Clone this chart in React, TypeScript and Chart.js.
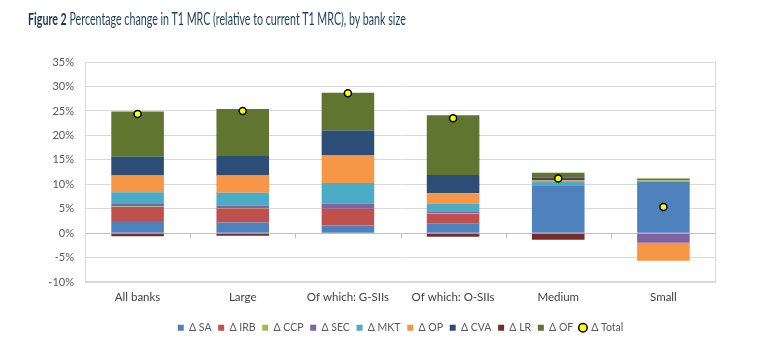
import React, { useEffect, useRef } from 'react';
import { Chart, registerables } from 'chart.js';
Chart.register(...registerables);

const categories = ['All banks', 'Large', 'Of which: G-SIIs', 'Of which: O-SIIs', 'Medium', 'Small'];
const dSA = [2.5, 2.2, 1.6, 2.05, 9.65, 10.6];
const dIRB = [2.9, 2.9, 3.4, 1.9, 0, 0];
const dCCP = [0.1, 0.1, 0, 0.1, 0, 0.25];
const dSEC = [0.5, 0.5, 1.1, 0.3, 0, -1.9];
const dMKT = [2.4, 2.6, 4.2, 1.7, 0.85, 0];
const dOP = [3.4, 3.5, 5.6, 2.15, 0.4, -3.7];
const dCVA = [3.85, 4.0, 5.1, 3.7, 0.45, 0];
const dLR = [-0.6, -0.5, 0, -0.7, -1.3, 0];
const dOF = [9.25, 9.6, 7.7, 12.2, 1.05, 0.35];
const dTotal = [24.4, 25.0, 28.6, 23.5, 11.2, 5.4];
const yTicks = [-10, -5, 0, 5, 10, 15, 20, 25, 30, 35];

const FONT = 'Lato';

const framePlugin = {
  id: 'frame',
  beforeDatasetsDraw(chart: any) {
    const { ctx, chartArea: a, scales } = chart;
    ctx.save();
    ctx.strokeStyle = '#d9d9d9';
    ctx.lineWidth = 1;
    ctx.strokeRect(Math.round(a.left) + 0.5, Math.round(a.top) + 0.5, Math.round(a.width) - 1, Math.round(a.height) - 1);
    const y0 = Math.round(scales.y.getPixelForValue(0)) + 0.5;
    const n = chart.data.labels.length;
    ctx.strokeStyle = '#bfbfbf';
    for (let i = 1; i < n; i++) {
      const x = Math.round((scales.x.getPixelForValue(i - 1) + scales.x.getPixelForValue(i)) / 2) + 0.5;
      ctx.beginPath();
      ctx.moveTo(x, y0);
      ctx.lineTo(x, y0 + 5);
      ctx.stroke();
    }
    ctx.restore();
  },
};

export default function App() {
  const canvasRef = useRef<HTMLCanvasElement>(null);
  const titleRef = useRef<HTMLSpanElement>(null);

  useEffect(() => {
    const t = titleRef.current;
    if (t) {
      const w = t.offsetWidth;
      if (w > 0) t.style.transform = `scaleX(${378 / w})`;
    }
    const canvas = canvasRef.current!;
    const bar = (label: string, data: number[], color: string) => ({
      type: 'bar' as const,
      label,
      data,
      backgroundColor: color,
      borderWidth: 0,
      stack: 'main',
      barPercentage: 0.5,
      categoryPercentage: 1,
    });
    const chart = new Chart(canvas, {
      type: 'bar',
      data: {
        labels: categories,
        datasets: [
          bar('\u0394 SA', dSA, '#4F81BD'),
          bar('\u0394 IRB', dIRB, '#C0504D'),
          bar('\u0394 CCP', dCCP, '#9BBB59'),
          bar('\u0394 SEC', dSEC, '#8064A2'),
          bar('\u0394 MKT', dMKT, '#4BACC6'),
          bar('\u0394 OP', dOP, '#F79646'),
          bar('\u0394 CVA', dCVA, '#2C4D75'),
          bar('\u0394 LR', dLR, '#772C2A'),
          bar('\u0394 OF', dOF, '#5F7530'),
          {
            type: 'line' as const,
            label: '\u0394 Total',
            data: dTotal,
            showLine: false,
            stack: 'total',
            order: -1,
            backgroundColor: '#FFFF00',
            borderColor: '#000000',
            pointRadius: 3.5,
            pointBackgroundColor: '#FFFF00',
            pointBorderColor: '#000000',
            pointBorderWidth: 1.5,
          } as any,
        ],
      },
      options: {
        animation: false,
        responsive: false,
        devicePixelRatio: 1,
        layout: { padding: { left: 0, right: 41, top: 62, bottom: -4 } },
        scales: {
          x: {
            stacked: true,
            grid: { display: false },
            border: { display: false },
            ticks: { font: { family: FONT, size: 11.5 }, color: '#404040', padding: 0, maxRotation: 0 },
            afterFit: (s: any) => { s.height = 33.5; },
          },
          y: {
            stacked: true,
            min: -10,
            max: 35,
            afterBuildTicks: (s: any) => { s.ticks = yTicks.map((v) => ({ value: v })); },
            ticks: {
              font: { family: FONT, size: 11 },
              color: '#595959',
              padding: 11,
              callback: (v: any) => `${v}%`,
            },
            grid: {
              drawTicks: false,
              color: (c: any) => (c.tick && c.tick.value === 0 ? '#bfbfbf' : '#d9d9d9'),
            },
            border: { display: false },
            afterFit: (s: any) => { s.width = 85; },
          },
        },
        plugins: {
          title: { display: false },
          tooltip: { enabled: false },
          legend: {
            position: 'bottom',
            fullSize: false,
            labels: {
              font: { family: FONT, size: 10.5 },
              color: '#595959',
              usePointStyle: true,
              boxWidth: 6,
              boxHeight: 6,
              padding: 6.7,
              generateLabels: (ch: any) => {
                const items = Chart.defaults.plugins.legend.labels.generateLabels(ch);
                items.forEach((it: any) => {
                  const ds = ch.data.datasets[it.datasetIndex];
                  if (ds.type === 'line') {
                    it.pointStyle = 'circle';
                    it.fillStyle = '#FFFF00';
                    it.strokeStyle = '#000000';
                    it.lineWidth = 1.5;
                  } else {
                    it.pointStyle = 'rect';
                    it.lineWidth = 0;
                    it.strokeStyle = ds.backgroundColor;
                  }
                });
                return items.sort((a: any, b: any) => a.datasetIndex - b.datasetIndex);
              },
            },
          },
        },
      },
      plugins: [framePlugin],
    });
    return () => chart.destroy();
  }, []);

  return (
    <div style={{ position: 'absolute', left: 0, top: 0, width: 757, height: 339, background: '#fff', overflow: 'hidden' }}>
      <div style={{ position: 'absolute', left: 28, top: 8, whiteSpace: 'nowrap', lineHeight: '22px' }}>
        <span
          ref={titleRef}
          style={{ display: 'inline-block', transformOrigin: 'left center', fontFamily: FONT, fontSize: 17, color: '#1F3F5F' }}
        >
          <b style={{ color: '#17375E' }}>Figure 2</b> Percentage change in T1 MRC (relative to current T1 MRC), by bank size
        </span>
      </div>
      <canvas ref={canvasRef} width={757} height={339} style={{ display: 'block', width: 757, height: 339 }} />
    </div>
  );
}
